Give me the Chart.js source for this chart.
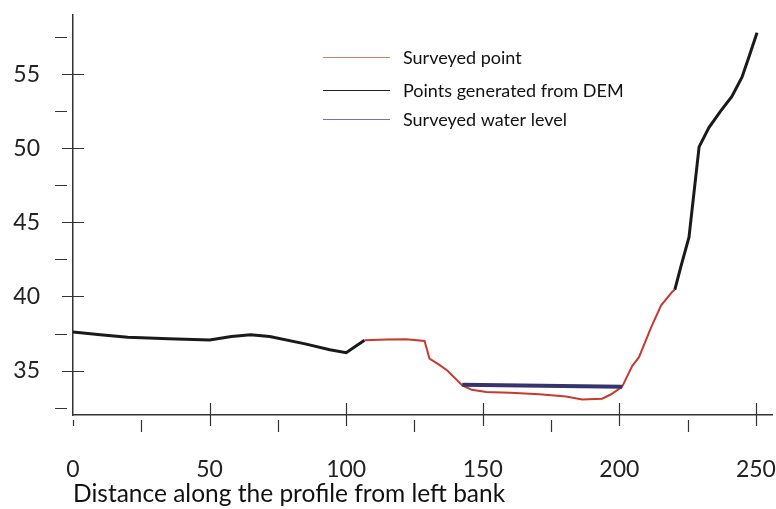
<!DOCTYPE html>
<html>
<head>
<meta charset="utf-8">
<script src="https://cdn.jsdelivr.net/npm/chart.js@4.4.1/dist/chart.umd.min.js"></script>
<style>
  html, body { margin: 0; padding: 0; background: #fff; }
  #wrap { width: 776px; height: 509px; position: relative; }
</style>
</head>
<body>
<div id="wrap"><canvas id="profile"></canvas></div>
<script>
  // distance along profile (m) / elevation
  const demX = [0, 10, 20, 35, 50, 58, 65, 72, 85, 94, 100, 106.7, null, 220.3, 222.5, 225.5, 229.2, 232.8, 237, 241.2, 244.9, 247.5, 250.4];
  const demY = [37.6, 37.42, 37.25, 37.15, 37.07, 37.3, 37.42, 37.3, 36.8, 36.4, 36.2, 37.05, null, 40.45, 42.0, 44.0, 50.1, 51.4, 52.5, 53.5, 54.8, 56.2, 57.8];

  const surveyX = [106.7, 115, 122, 128.7, 130.5, 134, 137, 142.5, 146, 151.3, 160, 170.7, 180.5, 186.4, 193.7, 197, 201, 204.7, 207.2, 211.6, 215.3, 219.3, 220.3];
  const surveyY = [37.05, 37.1, 37.12, 37.0, 35.8, 35.4, 35.0, 34.0, 33.7, 33.55, 33.5, 33.4, 33.25, 33.05, 33.1, 33.4, 33.9, 35.3, 35.9, 37.9, 39.4, 40.3, 40.45];

  const waterX = [142.5, 201];
  const waterY = [34.05, 33.9];

  const xTicks = [0, 25, 50, 75, 100, 125, 150, 175, 200, 225, 250];
  const yTicks = [32.5, 35, 37.5, 40, 42.5, 45, 47.5, 50, 52.5, 55, 57.5];

  const labels = ["Surveyed point", "Points generated from DEM", "Surveyed water level"];

  const FONT = "Lato, 'Open Sans', sans-serif";
  const toPts = (xs, ys) => xs.map((x, i) => (x === null ? { x: 160, y: null } : { x, y: ys[i] }));

  // crossing major ticks, one-sided minor ticks, and the legend
  const axisDecor = {
    id: "axisDecor",
    afterDraw(chart) {
      const { ctx, chartArea, scales } = chart;
      const xs = scales.x, ys = scales.y;
      ctx.save();
      ctx.strokeStyle = "#333";
      ctx.lineWidth = 1.2;
      ctx.beginPath();
      for (const v of yTicks) {
        const py = Math.round(ys.getPixelForValue(v)) + 0.5;
        const major = v % 5 === 0;
        ctx.moveTo(chartArea.left - (major ? 11 : 18), py);
        ctx.lineTo(chartArea.left + (major ? 11 : -6), py);
      }
      for (const v of xTicks) {
        const px = Math.round(xs.getPixelForValue(v)) + 0.5;
        const major = v % 50 === 0 && v !== 0;
        ctx.moveTo(px, chartArea.bottom + (major ? -12 : 5));
        ctx.lineTo(px, chartArea.bottom + (major || v === 0 ? 11 : 17));
      }
      ctx.stroke();

      // legend
      const rows = [
        { y: 57, color: "#c9846e", text: labels[0] },
        { y: 90, color: "#222", text: labels[1] },
        { y: 119, color: "#7474aa", text: labels[2] },
      ];
      ctx.font = "18px " + FONT;
      ctx.textBaseline = "middle";
      ctx.fillStyle = "#111";
      for (const r of rows) {
        ctx.strokeStyle = r.color;
        ctx.lineWidth = 1.2;
        ctx.beginPath();
        ctx.moveTo(323, r.y + 0.5);
        ctx.lineTo(390, r.y + 0.5);
        ctx.stroke();
        ctx.fillText(r.text, 403, r.y + 1);
      }
      ctx.restore();
    },
  };

  const hiddenGrid = (len) => ({
    display: true,
    drawOnChartArea: false,
    drawTicks: true,
    tickLength: len,
    color: "rgba(0,0,0,0)",
  });

  new Chart(document.getElementById("profile"), {
    type: "line",
    data: {
      datasets: [
        {
          label: labels[2],
          data: toPts(waterX, waterY),
          borderColor: "#35346e",
          borderWidth: 4,
          pointRadius: 0,
          tension: 0,
        },
        {
          label: labels[0],
          data: toPts(surveyX, surveyY),
          borderColor: "#c8392e",
          borderWidth: 2,
          pointRadius: 0,
          tension: 0,
        },
        {
          label: labels[1],
          data: toPts(demX, demY),
          borderColor: "#1a1a1a",
          borderWidth: 3,
          pointRadius: 0,
          tension: 0,
          spanGaps: false,
        },
      ],
    },
    options: {
      responsive: true,
      maintainAspectRatio: false,
      animation: false,
      layout: { padding: { top: 15, right: 3, left: 0, bottom: 0 } },
      plugins: { legend: { display: false }, tooltip: { enabled: false } },
      scales: {
        x: {
          type: "linear",
          min: 0,
          max: 256,
          afterBuildTicks: (s) => { s.ticks = xTicks.map((v) => ({ value: v })); },
          afterFit: (s) => { s.height = 94; },
          grid: hiddenGrid(41),
          border: { display: true, color: "#333", width: 1.5 },
          ticks: {
            autoSkip: false,
            maxRotation: 0,
            padding: 0,
            color: "#222",
            font: { family: FONT, size: 23 },
            callback: (v) => (v % 50 === 0 ? String(v) : ""),
          },
          title: {
            display: true,
            align: "start",
            text: "Distance along the profile from left bank",
            color: "#111",
            font: { family: FONT, size: 24.5 },
            padding: { top: -9, bottom: 0 },
          },
        },
        y: {
          min: 32,
          max: 59,
          afterBuildTicks: (s) => { s.ticks = yTicks.map((v) => ({ value: v })); },
          afterFit: (s) => { s.width = 73; },
          grid: hiddenGrid(33),
          border: { display: true, color: "#333", width: 1.5 },
          ticks: {
            autoSkip: false,
            padding: 0,
            color: "#222",
            font: { family: FONT, size: 23 },
            callback: (v) => (v % 5 === 0 ? String(v) : ""),
          },
        },
      },
    },
    plugins: [axisDecor],
  });
</script>
</body>
</html>
